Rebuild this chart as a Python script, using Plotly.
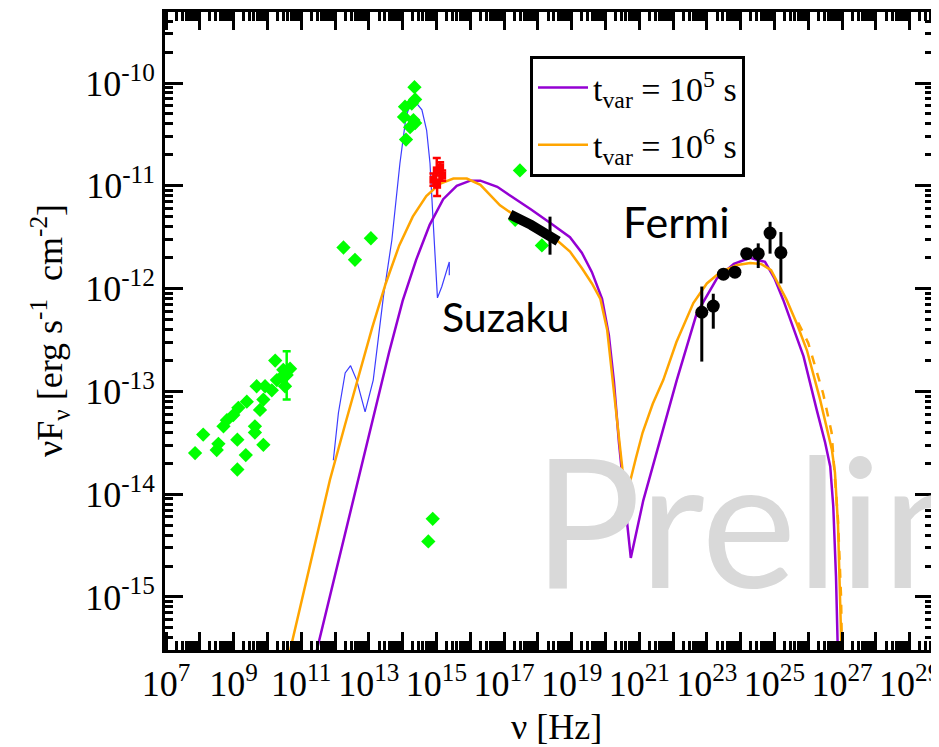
import numpy as np
import plotly.graph_objects as go

# ---------------- data (log10 values) ----------------
radio_lognu = [7.86, 8.10, 8.55, 8.50, 9.11, 9.11, 9.36, 9.88, 9.63, 9.63, 8.70, 8.80,
               8.99, 9.14, 9.39, 9.68, 9.93, 9.88, 9.78, 10.23, 10.47, 10.28, 10.52,
               10.67, 10.42, 10.13]
radio_logf = [-13.60, -13.42, -13.51, -13.57, -13.76, -13.47, -13.62, -13.52, -13.34, -13.40,
              -13.34, -13.28, -13.23, -13.16, -13.10, -12.95, -12.95, -13.08, -13.18, -12.70,
              -12.79, -12.89, -12.95, -12.78, -12.86, -12.99]
radio_err_lognu = [10.57]
radio_err_logf = [-12.84]
radio_err_hi = [-12.61]
radio_err_lo = [-13.08]

ir_lognu = [14.35, 14.37, 14.07, 14.27, 14.04, 14.32, 14.37, 14.22, 14.10,
            12.25, 13.06, 12.59, 17.47, 17.33, 18.12, 14.89, 14.76]
ir_logf = [-10.04, -10.16, -10.23, -10.20, -10.33, -10.36, -10.39, -10.43, -10.55,
           -11.60, -11.51, -11.72, -10.85, -11.33, -11.58, -14.24, -14.46]

opt_lognu = [14.91, 15.01, 15.11, 15.17, 15.02]
opt_logf = [-10.94, -10.85, -10.82, -10.90, -10.99]
opt_hi = [-10.88, -10.73, -10.77, -10.85, -10.94]
opt_lo = [-11.00, -10.90, -10.87, -10.95, -11.10]

suzaku_lognu = [17.18, 17.40, 17.60, 17.80, 18.00, 18.20, 18.40, 18.60]
suzaku_logf = [-11.28, -11.31, -11.35, -11.38, -11.42, -11.46, -11.50, -11.54]
suzaku_bar_lognu = [18.36]
suzaku_bar_logf = [-11.48]
suzaku_bar_hi = [-11.30]
suzaku_bar_lo = [-11.67]

fermi_lognu = [22.85, 23.19, 23.49, 23.83, 24.18, 24.52, 24.87, 25.19]
fermi_logf = [-12.23, -12.17, -11.86, -11.84, -11.66, -11.66, -11.46, -11.65]
fermi_hi = [-11.98, -12.05, -11.81, -11.79, -11.61, -11.56, -11.35, -11.45]
fermi_lo = [-12.71, -12.39, -11.91, -11.89, -11.71, -11.80, -11.66, -11.95]

purple_lognu = [11.46, 12.00, 12.69, 13.20, 13.60, 14.00, 14.40, 14.80, 15.20, 15.60, 16.00,
                16.30, 16.80, 17.20, 17.80, 18.40, 18.95, 19.30, 19.60, 19.90, 20.10, 20.25,
                20.40, 20.60, 20.75, 21.12, 21.60, 22.11, 22.70, 23.30, 23.80, 24.28, 24.72,
                25.00, 25.26, 25.55, 25.86, 26.25, 26.50, 26.65, 26.74, 26.82, 26.88]
purple_logf = [-15.52, -14.79, -13.86, -13.18, -12.62, -12.12, -11.72, -11.38, -11.13, -11.00, -10.95,
               -10.95, -11.01, -11.10, -11.23, -11.37, -11.50, -11.65, -11.84, -12.10, -12.45, -12.90,
               -13.50, -14.15, -14.62, -14.06, -13.50, -12.89, -12.24, -11.90, -11.76, -11.70, -11.74,
               -11.90, -12.11, -12.38, -12.66, -13.18, -13.50, -13.73, -14.12, -14.80, -15.60]

orange_lognu = [10.67, 11.30, 11.85, 12.30, 12.70, 13.10, 13.50, 13.90, 14.30, 14.70, 15.10,
                15.50, 15.90, 16.30, 16.88, 17.50, 18.00, 18.60, 18.95, 19.30, 19.60, 19.85,
                20.05, 20.20, 20.35, 20.50, 20.61, 20.75, 20.90, 21.10, 21.40, 21.71, 22.10,
                22.60, 23.00, 23.40, 23.90, 24.28, 24.60, 24.90, 25.36, 25.66, 25.96, 26.35,
                26.70, 26.79, 26.88, 26.94, 26.99]
orange_logf = [-15.52, -14.65, -13.86, -13.32, -12.85, -12.38, -11.95, -11.58, -11.30, -11.10, -10.98,
               -10.93, -10.93, -10.99, -11.19, -11.33, -11.42, -11.54, -11.64, -11.80, -11.95, -12.10,
               -12.40, -12.85, -13.35, -13.75, -13.98, -13.85, -13.65, -13.40, -13.12, -12.89, -12.52,
               -12.14, -11.95, -11.84, -11.77, -11.75, -11.76, -11.82, -12.11, -12.34, -12.60, -13.08,
               -13.57, -13.79, -14.30, -14.93, -15.60]

orange_dash_lognu = [25.70, 26.00, 26.44, 26.69, 26.88, 26.97, 27.00]
orange_dash_logf = [-12.33, -12.53, -13.02, -13.40, -14.25, -15.00, -15.60]

blue_lognu = [11.95, 12.10, 12.30, 12.46, 12.64, 12.89, 13.13, 13.43, 13.68, 13.92, 14.10,
              14.22, 14.42, 14.57, 14.71, 14.81, 14.89, 14.96, 15.03, 15.16, 15.31, 15.38, 15.38]
blue_logf = [-13.67, -13.21, -12.82, -12.75, -12.89, -13.20, -12.89, -12.08, -11.53, -10.78, -10.33,
             -10.21, -10.20, -10.26, -10.46, -10.78, -11.27, -11.75, -12.09, -11.98, -11.82, -11.74, -11.87]

x_major_exp = list(range(7, 30))
x_label_exp = list(range(7, 30, 2))
y_major_exp = list(range(-16, -8))
y_label_exp = [-15, -14, -13, -12, -11, -10]

legend_names = ["t<sub>var</sub> = 10<sup>5</sup> s", "t<sub>var</sub> = 10<sup>6</sup> s"]


def p(v):
    return 10.0 ** np.asarray(v, dtype=float)


# ---------------- layout helpers ----------------
# the page has an 8 px body margin, so the figure starts at (8, 8) of the window
OFF = 8
W, H = 939 - OFF, 747 - OFF
ML, MT = 165 - OFF, 12 - OFF
MR = W - (933 - OFF)
MB = H - (650 - OFF)
PW, PH = W - ML - MR, H - MT - MB


def fx(px):  # window pixel -> paper x
    return (px - OFF - ML) / PW


def fy(py):  # window pixel -> paper y
    return (H - MB - (py - OFF)) / PH


serif = "Liberation Serif"
sans = "Lato"
PURPLE = "#9400d3"
ORANGE = "#ffa500"
GREEN = "#00ff00"

fig = go.Figure()

# model curves
fig.add_trace(go.Scatter(x=p(blue_lognu), y=p(blue_logf), mode="lines",
                         line=dict(color="#3c3cff", width=1.2), showlegend=False))
fig.add_trace(go.Scatter(x=p(purple_lognu), y=p(purple_logf), mode="lines", name=legend_names[0],
                         legendgroup="a", line=dict(color=PURPLE, width=2.5)))
fig.add_trace(go.Scatter(x=p(orange_lognu), y=p(orange_logf), mode="lines", name=legend_names[1],
                         legendgroup="b", line=dict(color=ORANGE, width=2.5)))
fig.add_trace(go.Scatter(x=p(orange_dash_lognu), y=p(orange_dash_logf), mode="lines",
                         line=dict(color=ORANGE, width=2.5, dash="dash"), showlegend=False))

# green archival data
fig.add_trace(go.Scatter(x=p(radio_lognu), y=p(radio_logf), mode="markers", showlegend=False,
                         marker=dict(symbol="diamond", size=11, color=GREEN)))
ry = p(radio_err_logf)
fig.add_trace(go.Scatter(x=p(radio_err_lognu), y=ry, mode="markers", showlegend=False,
                         marker=dict(symbol="diamond", size=11, color=GREEN),
                         error_y=dict(type="data", symmetric=False, array=p(radio_err_hi) - ry,
                                      arrayminus=ry - p(radio_err_lo), color=GREEN, thickness=2.5, width=4)))
fig.add_trace(go.Scatter(x=p(ir_lognu), y=p(ir_logf), mode="markers", showlegend=False,
                         marker=dict(symbol="diamond", size=11, color=GREEN)))

# optical (red)
oy = p(opt_logf)
fig.add_trace(go.Scatter(x=p(opt_lognu), y=oy, mode="markers", showlegend=False,
                         marker=dict(symbol="square", size=8, color="red"),
                         error_y=dict(type="data", symmetric=False, array=p(opt_hi) - oy,
                                      arrayminus=oy - p(opt_lo), color="red", thickness=2.5, width=4)))

# Suzaku
fig.add_trace(go.Scatter(x=p(suzaku_lognu), y=p(suzaku_logf), mode="lines", showlegend=False,
                         line=dict(color="black", width=10)))
sy = p(suzaku_bar_logf)
fig.add_trace(go.Scatter(x=p(suzaku_bar_lognu), y=sy, mode="markers", showlegend=False,
                         marker=dict(size=1, color="black"),
                         error_y=dict(type="data", symmetric=False, array=p(suzaku_bar_hi) - sy,
                                      arrayminus=sy - p(suzaku_bar_lo), color="black", thickness=3, width=0)))

# Fermi
fy_ = p(fermi_logf)
fig.add_trace(go.Scatter(x=p(fermi_lognu), y=fy_, mode="markers", showlegend=False,
                         marker=dict(symbol="circle", size=13, color="black"),
                         error_y=dict(type="data", symmetric=False, array=p(fermi_hi) - fy_,
                                      arrayminus=fy_ - p(fermi_lo), color="black", thickness=3, width=0)))

# empty trace so the mirrored (top/right) tick axes are drawn
fig.add_trace(go.Scatter(x=[], y=[], xaxis="x2", yaxis="y2", showlegend=False, hoverinfo="skip"))

x_ticktext = [f"10<sup>{e}</sup>" if e in x_label_exp else "" for e in x_major_exp]
y_ticktext = [f"10<sup>{e}</sup>" if e in y_label_exp else "" for e in y_major_exp]
x_major_vals = [10.0 ** e for e in x_major_exp]
y_major_vals = [10.0 ** e for e in y_major_exp]
x_minor = [m * 10.0 ** e for e in range(6, 30) for m in range(2, 10)]
y_minor = [m * 10.0 ** e for e in range(-17, -8) for m in range(2, 10)]
XR = [6.97, 29.69]
YR = [-15.516, -9.309]

tick_common = dict(type="log", showgrid=False, zeroline=False, automargin=False,
                   ticks="inside", ticklen=18, tickwidth=3, tickcolor="black", tickmode="array")

fig.update_layout(
    xaxis=dict(**tick_common, range=XR, tickvals=x_major_vals, ticktext=x_ticktext,
               showline=True, linecolor="black", linewidth=3, mirror=True,
               ticklabeloverflow="allow",
               tickfont=dict(family=serif, size=36, color="black"),
               minor=dict(tickmode="array", tickvals=x_minor, ticks="inside", ticklen=9,
                          tickwidth=2.5, tickcolor="black")),
    yaxis=dict(**tick_common, range=YR, tickvals=y_major_vals, ticktext=y_ticktext,
               showline=True, linecolor="black", linewidth=3, mirror=True,
               ticklabeloverflow="allow",
               tickfont=dict(family=serif, size=36, color="black"),
               minor=dict(tickmode="array", tickvals=y_minor, ticks="inside", ticklen=8,
                          tickwidth=2.5, tickcolor="black")),
    xaxis2=dict(**tick_common, range=XR, tickvals=x_major_vals, showticklabels=False,
                overlaying="x", side="top", anchor="y2", showline=False,
                minor=dict(tickmode="array", tickvals=x_minor, ticks="inside", ticklen=9,
                           tickwidth=2.5, tickcolor="black")),
    yaxis2=dict(**tick_common, range=YR, tickvals=y_major_vals, showticklabels=False,
                overlaying="y", side="right", anchor="x2", showline=False,
                minor=dict(tickmode="array", tickvals=y_minor, ticks="inside", ticklen=8,
                           tickwidth=2.5, tickcolor="black")),
)

fig.update_layout(
    width=W, height=H, margin=dict(l=ML, r=MR, t=MT, b=MB, autoexpand=False),
    paper_bgcolor="white", plot_bgcolor="white",
    legend=dict(x=fx(530), y=fy(56), xanchor="left", yanchor="top",
                bgcolor="white", bordercolor="black", borderwidth=3,
                traceorder="grouped", tracegroupgap=10, itemwidth=50,
                font=dict(family=serif, size=34, color="black")),
    annotations=[
        dict(text="νF<sub>ν</sub> [erg s<sup>-1</sup>  cm<sup>-2</sup>]", xref="paper", yref="paper",
             x=fx(50), y=fy(331), textangle=-90, showarrow=False, xanchor="center", yanchor="middle",
             font=dict(family=serif, size=36, color="black")),
        dict(text="ν [Hz]", xref="paper", yref="paper", x=fx(556), y=fy(727), showarrow=False,
             xanchor="center", yanchor="middle", font=dict(family=serif, size=36, color="black")),
        dict(text="Suzaku", xref="paper", yref="paper", x=fx(505), y=fy(316), showarrow=False,
             xanchor="center", yanchor="middle", font=dict(family=sans, size=41, color="black")),
        dict(text="Fermi", xref="paper", yref="paper", x=fx(676), y=fy(221), showarrow=False,
             xanchor="center", yanchor="middle", font=dict(family=sans, size=43, color="black")),
        dict(text="Preliminary", xref="paper", yref="paper", x=fx(531), y=fy(518), showarrow=False,
             xanchor="left", yanchor="middle", font=dict(family=sans, size=180, color="#d9d9d9")),
    ],
)

fig.write_html("out.html")
